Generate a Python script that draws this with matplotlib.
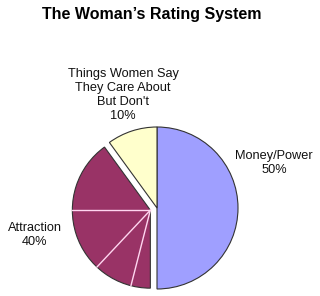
import numpy as np
import matplotlib
matplotlib.use("Agg")
import matplotlib.pyplot as plt

plt.rcParams['font.family'] = ['Liberation Sans', 'DejaVu Sans']

# Chart data
categories = ["Money/Power", "Attraction", "Things Women Say\nThey Care About\nBut Don't"]
shares = [50, 40, 10]
# Attraction is drawn split into sub-wedges (clockwise from the bottom)
attraction_parts = [4, 8, 13, 15]
colors = ["#9f9fff", "#993366", "#ffffcc"]

fig = plt.figure(figsize=(3.2, 2.96), dpi=100)
ax = fig.add_axes([0, 0, 1, 1])

center = (157, 88)
radius = 81
# pie explode is in data units here (axes are in pixels)
explode = [0, 7, 0]

wedges, _ = ax.pie(shares, colors=colors, startangle=90, counterclock=False,
                   explode=explode, center=center, radius=radius, frame=True,
                   wedgeprops=dict(edgecolor='#333333', linewidth=0.8))
ax.set_xlim(0, 320)
ax.set_ylim(0, 296)
ax.set_aspect('equal')
ax.axis('off')

# the pulled-out slice is drawn a touch smaller in the original
attr = wedges[1]
attr.set_radius(radius - 3)

# light divider lines inside the Attraction wedge
cx, cy = attr.center
theta = 90 - 360 * shares[0] / 100.0
for part in attraction_parts[:-1]:
    theta -= 360 * part / 100.0
    t = np.deg2rad(theta)
    ax.plot([cx, cx + attr.r * np.cos(t)], [cy, cy + attr.r * np.sin(t)],
            color='#ffd6f0', linewidth=1.0, zorder=5)

ax.text(152, 282, "The Woman\u2019s Rating System", ha='center', va='center',
        fontsize=11.5, fontweight='bold')

label_pos = [(274, 133), (35, 61), (123, 201)]
for name, val, (x, y) in zip(categories, shares, label_pos):
    ax.text(x, y, f"{name}\n{val}%", ha='center', va='center', fontsize=9.2,
            color='#111111', linespacing=1.25)

fig.savefig("out.png", dpi=100)
